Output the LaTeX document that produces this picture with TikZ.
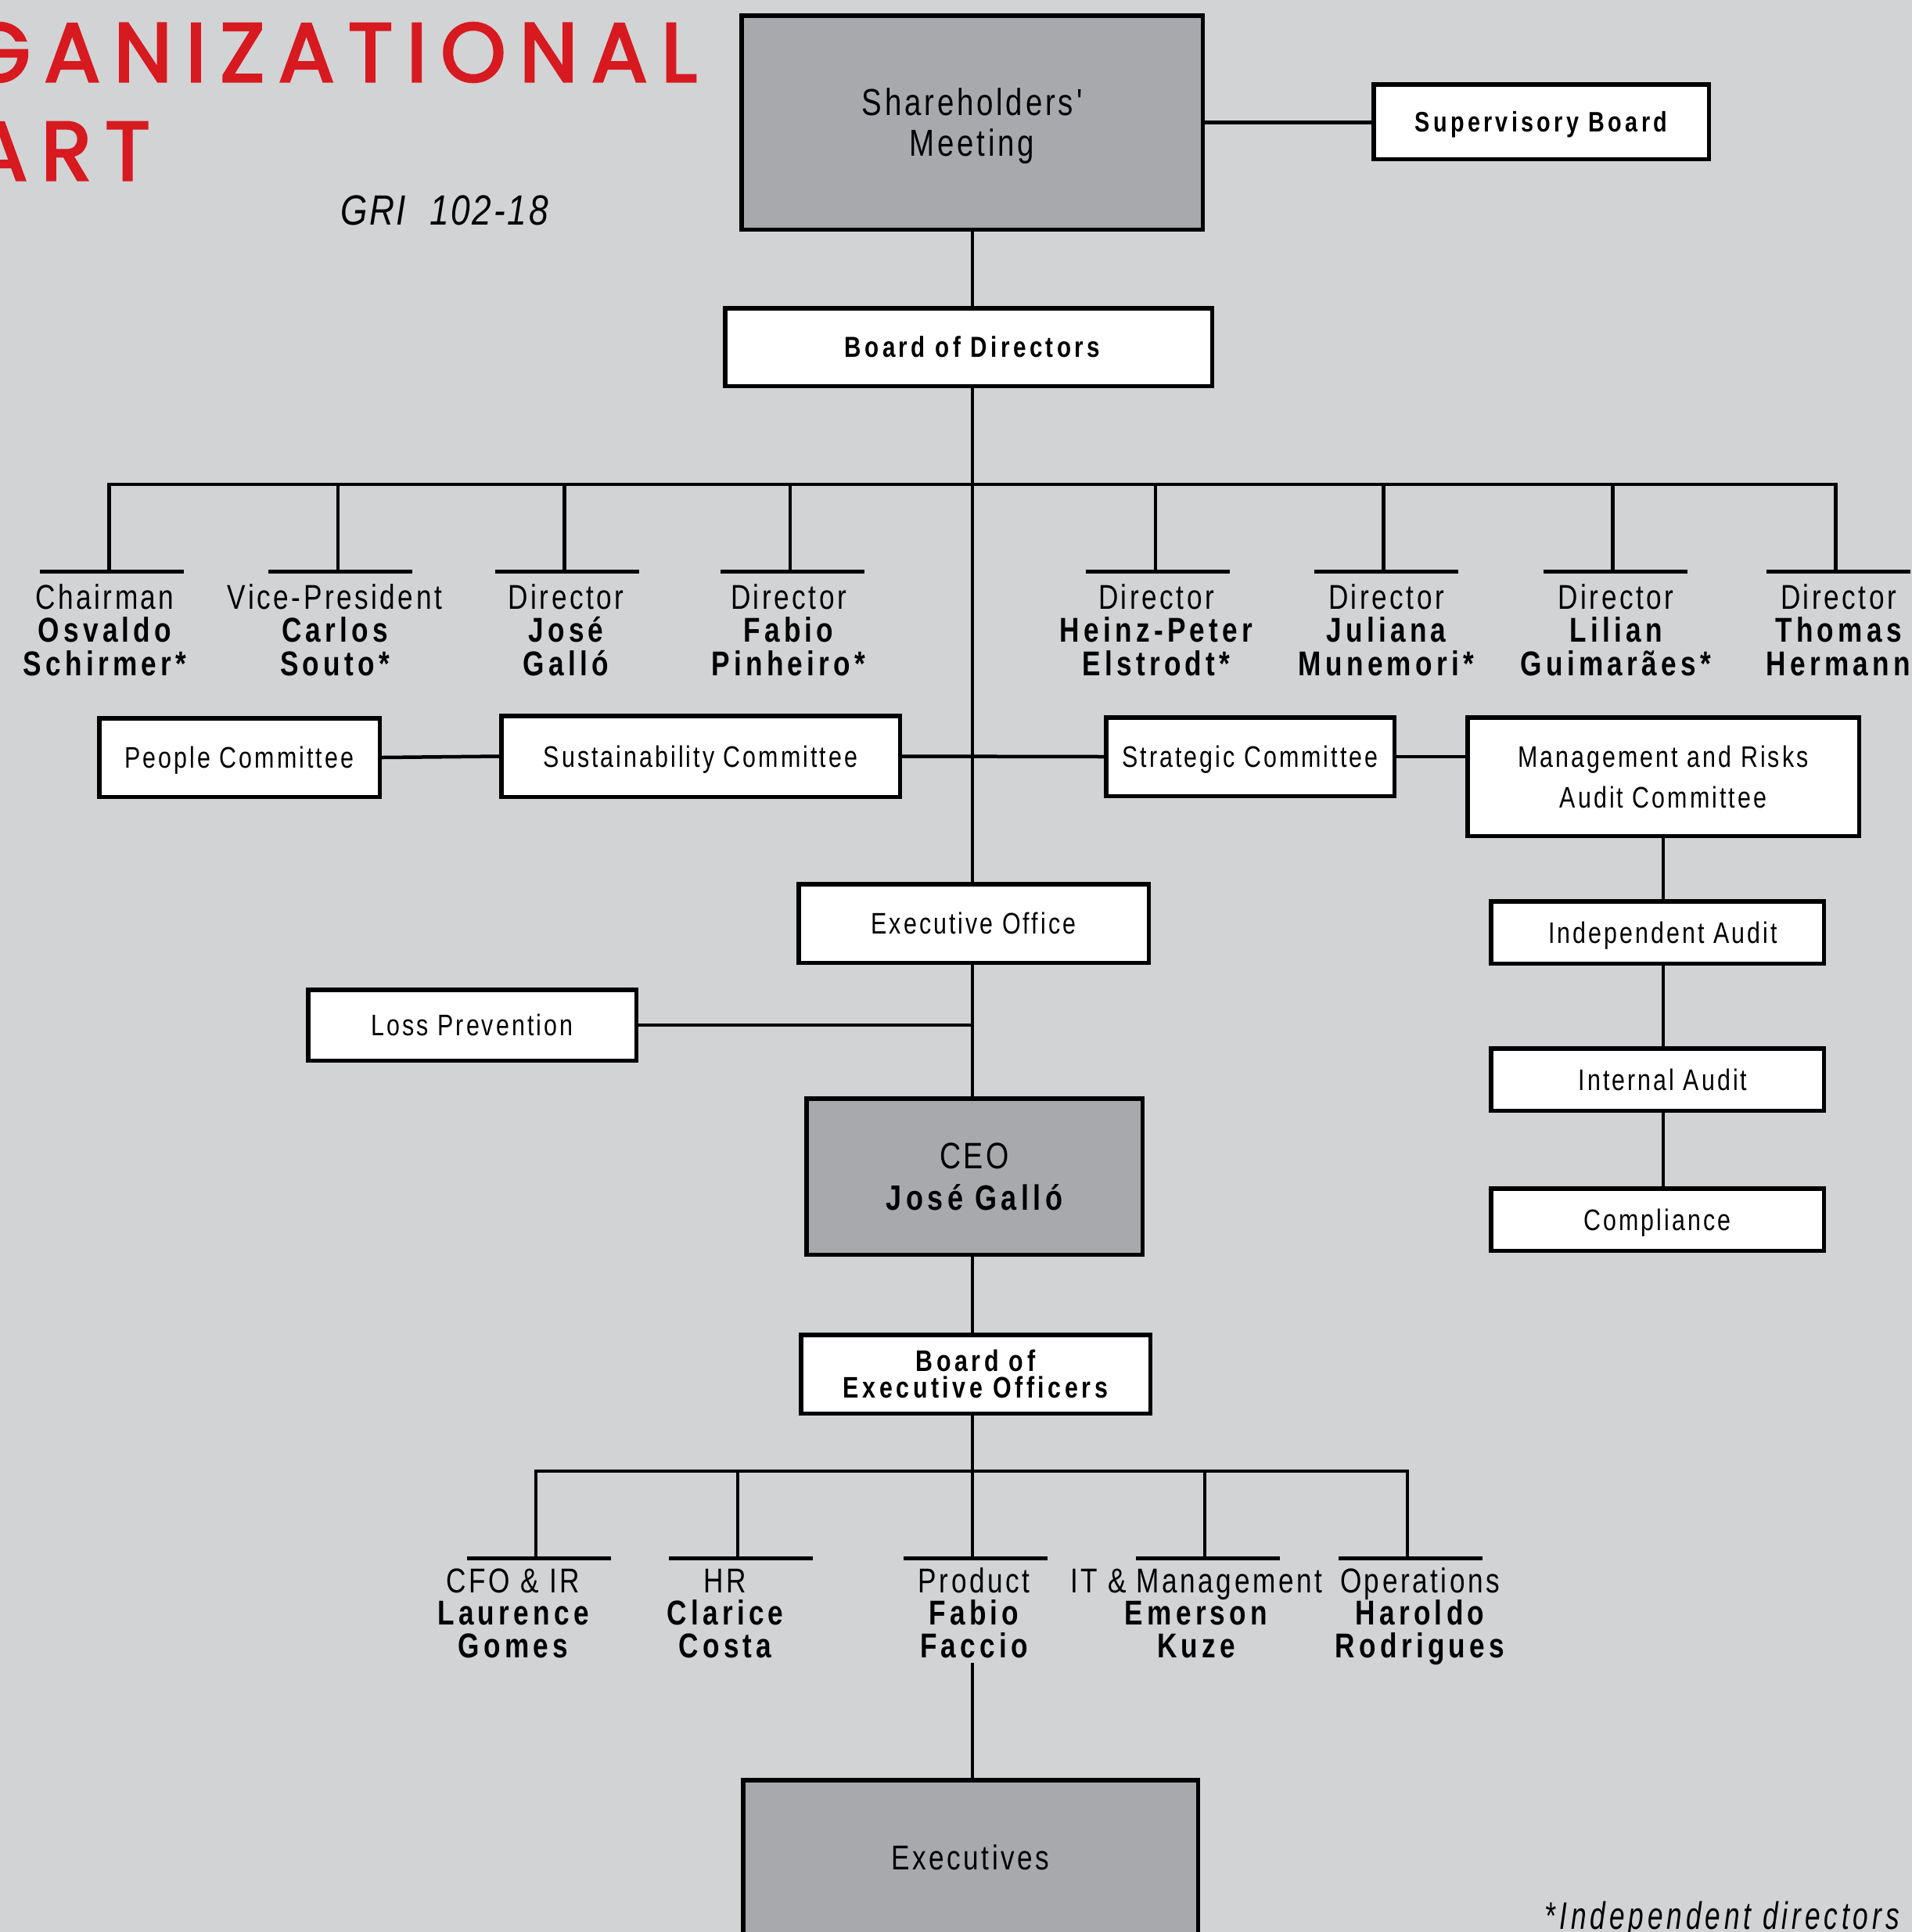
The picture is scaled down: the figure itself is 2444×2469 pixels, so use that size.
\documentclass[tikz,border=0pt]{standalone}
\usepackage{fontspec}
\setmainfont{Liberation Sans}
\newfontfamily\cnd[FakeStretch=0.8,LetterSpace=8]{Liberation Sans}
\newfontfamily\cndb[FakeStretch=0.8,LetterSpace=12]{Liberation Sans}
\newfontfamily\cndi[FakeStretch=0.72,LetterSpace=10]{Liberation Sans}
\newfontfamily\grifont[FakeStretch=0.82,LetterSpace=5]{Liberation Sans}
\newfontfamily\ttlfont[LetterSpace=16.5,FakeBold=3]{Poppins}
\newcommand\nb{\cndb\bfseries}
\newcommand\vst[1]{\vtop{\halign{\hfil##\hfil\cr#1\crcr}}}
\definecolor{bgc}{HTML}{D1D3D4}
\definecolor{boxgray}{HTML}{A7A9AC}
\definecolor{ttlred}{HTML}{D71920}
\begin{document}
\begin{tikzpicture}[x=1pt,y=-1pt,
  box/.style={draw=black, line width=5.5pt, fill=white, inner sep=0pt, text depth=0pt,
    font=\cnd\fontsize{38}{38}\selectfont},
  gbox/.style={box, fill=boxgray},
  boldbox/.style={box, font=\nb\fontsize{37}{37}\selectfont},
  lbl/.style={inner sep=0pt, anchor=base, font=\cnd\fontsize{44}{42.5}\selectfont},
  lblo/.style={lbl, font=\cnd\fontsize{44}{41.5}\selectfont},
  conn/.style={line width=4.5pt, line join=miter},
  tbar/.style={line width=5pt},
  ttl/.style={inner sep=0pt, anchor=base east, text=ttlred, font=\ttlfont\fontsize{106}{106}\selectfont}
]
\fill[bgc] (0,0) rectangle (2444,2469);
\useasboundingbox (0,0) rectangle (2444,2469);

% title
\node[ttl] (t1) at (891,104) {GANIZATIONAL};
\node[ttl] (t2) at (192,230) {ART};
\node[inner sep=0pt, anchor=base west, font=\grifont\itshape\fontsize{54}{54}\selectfont] (gri) at (435,287) {GRI\ \ 102-18};

% top boxes
\node[gbox, minimum width=589.5pt, minimum height=273.5pt, text height=34.4pt, text depth=52pt,
  font=\cnd\fontsize{48}{52}\selectfont] (sh) at (1242.5,156.5) {\vst{Shareholders'\cr Meeting}};
\node[boldbox, font=\nb\fontsize{36}{36}\selectfont, minimum width=428.5pt, minimum height=95.5pt] (sup) at (1970,155.5) {Supervisory Board};
\node[boldbox, minimum width=622.5pt, minimum height=99.5pt] (bod) at (1238,443.5) {\hspace*{10pt}Board of Directors};

% committees
\node[box, minimum width=358.5pt, minimum height=100.5pt] (people) at (306,968) {People Committee};
\node[box, minimum width=509.5pt, minimum height=103.5pt] (sust) at (895.5,966.5) {Sustainability Committee};
\node[box, minimum width=368.5pt, minimum height=100.5pt] (strat) at (1598,967) {Strategic Committee};
\node[box, minimum width=500.5pt, minimum height=151.5pt, text height=27.2pt, text depth=52pt,
  font=\cnd\fontsize{38}{52}\selectfont] (mrac) at (2126,992.5) {\vst{Management and Risks\cr Audit Committee}};
\node[box, minimum width=425.5pt, minimum height=79.5pt] (indep) at (2118.5,1191.5) {\hspace*{14pt}Independent Audit};
\node[box, minimum width=425.5pt, minimum height=79.5pt] (internal) at (2118.5,1379.5) {\hspace*{14pt}Internal Audit};
\node[box, minimum width=425.5pt, minimum height=79.5pt] (compl) at (2118.5,1558.5) {Compliance};

% executive line
\node[box, minimum width=447.5pt, minimum height=100.5pt] (eo) at (1244.5,1180) {Executive Office};
\node[box, minimum width=419.5pt, minimum height=90.5pt] (loss) at (603.5,1310) {Loss Prevention};
\node[gbox, minimum width=429.5pt, minimum height=199.5pt, text height=33.7pt, text depth=53pt,
  font=\cnd\fontsize{47}{53}\selectfont] (ceo) at (1245.5,1503.5)
  {\vst{CEO\cr{\nb\fontsize{45}{53}\selectfont José Galló}}};
\node[box, minimum width=446.5pt, minimum height=100.5pt, text height=27.2pt, text depth=34pt,
  font=\nb\fontsize{38}{34}\selectfont] (beo) at (1247,1756) {\vst{Board of\cr Executive Officers}};
\node[gbox, minimum width=581.5pt, minimum height=198.5pt, font=\cnd\fontsize{44}{44}\selectfont] (exe) at (1240.5,2374) {Executives};

% director labels
\node[lbl] (dl1) at (134,778) {\vst{Chairman\cr{\nb Osvaldo}\cr{\nb Schirmer*}}};
\node[lbl] (dl2) at (428,778) {\vst{Vice-President\cr{\nb Carlos}\cr{\nb Souto*}}};
\node[lbl] (dl3) at (723.5,778) {\vst{Director\cr{\nb José}\cr{\nb Galló}}};
\node[lbl] (dl4) at (1008,778) {\vst{Director\cr{\nb Fabio}\cr{\nb Pinheiro*}}};
\node[lbl] (dl5) at (1478,778) {\vst{Director\cr{\nb Heinz-Peter}\cr{\nb Elstrodt*}}};
\node[lbl] (dl6) at (1772,778) {\vst{Director\cr{\nb Juliana}\cr{\nb Munemori*}}};
\node[lbl] (dl7) at (2065.5,778) {\vst{Director\cr{\nb Lilian}\cr{\nb Guimarães*}}};
\node[lbl] (dl8) at (2350,778) {\vst{Director\cr{\nb Thomas}\cr{\nb Hermann}}};

% officer labels
\node[lblo] (ol1) at (656,2035) {\vst{CFO \& IR\cr{\nb Laurence}\cr{\nb Gomes}}};
\node[lblo] (ol2) at (927,2035) {\vst{HR\cr{\nb Clarice}\cr{\nb Costa}}};
\node[lblo] (ol3) at (1245,2035) {\vst{Product\cr{\nb Fabio}\cr{\nb Faccio}}};
\node[lblo] (ol4) at (1529,2035) {\vst{IT \& Management\cr{\nb Emerson}\cr{\nb Kuze}}};
\node[lblo] (ol5) at (1815,2035) {\vst{Operations\cr{\nb Haroldo}\cr{\nb Rodrigues}}};

% footnote
\node[inner sep=0pt, anchor=base east, font=\cndi\itshape\fontsize{49}{49}\selectfont] (fn) at (2428,2465) {*Independent directors};

% coordinates
\coordinate (mx) at (1243,0);
\coordinate (ax) at (2126,0);
\foreach \i/\x in {1/139.5,2/432,3/721.5,4/1010,5/1477,6/1768.5,7/2061.5,8/2346.5}{
  \coordinate (dv\i) at (\x,619);
  \coordinate (bk\i) at (\x+3,730);
}
\foreach \i/\x in {1/685,2/943,3/1243,4/1540,5/1799}{
  \coordinate (ev\i) at (\x,1880);
  \coordinate (eb\i) at (\x+4,1991);
}
\coordinate (pf) at (1243,2125);

% connectors
\draw[conn] (sh.east) -- (sh.east -| sup.west);
\draw[conn] (sh.south -| mx) -- (bod.north -| mx);
\draw[conn] (bod.south -| mx) -- (eo.north -| mx);
\draw[conn] (bk1 -| dv1) -- (dv1) -- (dv8) -- (bk8 -| dv8);
\foreach \i in {2,...,7}{\draw[conn] (dv\i) -- (bk\i -| dv\i);}
\foreach \i in {1,...,8}{\draw[tbar] ([xshift=-92pt]bk\i) -- ([xshift=92pt]bk\i);}
\draw[conn] (people.east) -- (sust.west);
\draw[conn] (sust.east) -- (strat.west);
\draw[conn] (strat.east) -- (strat.east -| mrac.west);
\draw[conn] (mrac.south -| ax) -- (indep.north -| ax);
\draw[conn] (indep.south -| ax) -- (internal.north -| ax);
\draw[conn] (internal.south -| ax) -- (compl.north -| ax);
\draw[conn] (eo.south -| mx) -- (ceo.north -| mx);
\draw[conn] (loss.east) -- (loss.east -| mx);
\draw[conn] (ceo.south -| mx) -- (beo.north -| mx);
\draw[conn] (beo.south -| mx) -- (eb3 -| mx);
\draw[conn] (eb1 -| ev1) -- (ev1) -- (ev5) -- (eb5 -| ev5);
\foreach \i in {2,4}{\draw[conn] (ev\i) -- (eb\i -| ev\i);}
\foreach \i in {1,...,5}{\draw[tbar] ([xshift=-92pt]eb\i) -- ([xshift=92pt]eb\i);}
\draw[conn] (pf) -- (pf |- exe.north);
\end{tikzpicture}
\end{document}
